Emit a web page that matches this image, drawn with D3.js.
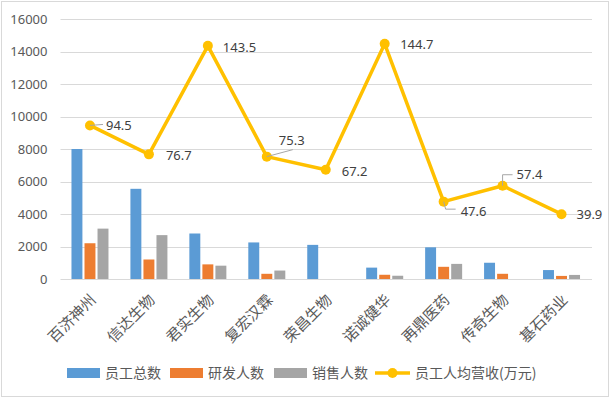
<!DOCTYPE html>
<html>
<head>
<meta charset="utf-8">
<script src="https://cdn.jsdelivr.net/npm/d3@7"></script>
<style>
  body { margin: 0; background: #fff; }
  text { font-family: "Noto Sans CJK SC", "Noto Sans", sans-serif; }
</style>
</head>
<body>
<script>
// Data
var companies = ["百济神州", "信达生物", "君实生物", "复宏汉霖", "荣昌生物", "诺诚健华", "再鼎医药", "传奇生物", "基石药业"];
var staffTotal = [8000, 5550, 2800, 2250, 2100, 700, 1950, 1000, 550];
var staffRD = [2200, 1200, 900, 320, 0, 260, 750, 320, 190];
var staffSales = [3100, 2700, 820, 520, 0, 200, 930, 0, 250];
var revenuePerHead = [94.5, 76.7, 143.5, 75.3, 67.2, 144.7, 47.6, 57.4, 39.9];
var yTicks = [0, 2000, 4000, 6000, 8000, 10000, 12000, 14000, 16000];

var seriesNames = ["员工总数", "研发人数", "销售人数"];
var colors = ["#5b9bd5", "#ed7d31", "#a5a5a5"];
var lineColor = "#ffc000";
var lineName = "员工人均营收(万元)";

// label placement for the line values: text offset and leader line
var labelPos = [
  {dx: 16, dy: 0, leader: [[0, 0], [13, -1]]},
  {dx: 17, dy: 1, leader: null},
  {dx: 15, dy: 1.5, leader: null},
  {dx: 12, dy: -16, leader: [[0, 0], [26, -7]]},
  {dx: 16, dy: 2, leader: null},
  {dx: 15.5, dy: 1, leader: null},
  {dx: 17, dy: 10, leader: [[0, 0], [2, 7.5], [12, 7.5]]},
  {dx: 14, dy: -11, leader: [[0, 0], [0, -11], [10, -11]]},
  {dx: 15, dy: 0, leader: null}
];

var W = 611, H = 398;
var plotLeft = 60.5, plotRight = 591, plotTop = 19, plotBottom = 279;

var svg = d3.select("body").append("svg")
    .attr("width", W)
    .attr("height", H);

// chart border
svg.append("rect")
    .attr("x", 1.5).attr("y", 1.5)
    .attr("width", W - 4).attr("height", H - 3)
    .attr("fill", "#fff")
    .attr("stroke", "#d9d9d9");

var x = d3.scaleBand()
    .domain(companies)
    .range([plotLeft, plotRight]);

var y = d3.scaleLinear()
    .domain([0, 16000])
    .range([plotBottom, plotTop]);

var x1 = d3.scaleBand()
    .domain(d3.range(3))
    .range([-18.5, 18.5])
    .paddingInner(0.16);

// gridlines
svg.append("g")
    .selectAll("line")
    .data(yTicks)
    .enter().append("line")
    .attr("x1", plotLeft)
    .attr("x2", plotRight + 1)
    .attr("y1", d => Math.round(y(d)) + 0.5)
    .attr("y2", d => Math.round(y(d)) + 0.5)
    .attr("stroke", "#d9d9d9");

// y axis labels
var yAxis = svg.append("g")
    .attr("transform", "translate(" + (plotLeft - 10) + ",0)")
    .call(d3.axisLeft(y).tickValues(yTicks).tickSize(0).tickFormat(d3.format("d")));
yAxis.select(".domain").remove();
yAxis.selectAll("text")
    .attr("fill", "#595959")
    .style("font-size", "13px")
    .style("font-family", "'Noto Sans', sans-serif");

// bars
var barSeries = [staffTotal, staffRD, staffSales];
var groups = svg.append("g")
    .selectAll("g")
    .data(companies)
    .enter().append("g")
    .attr("transform", d => "translate(" + (x(d) + x.bandwidth() / 2) + ",0)");

groups.selectAll("rect")
    .data((d, i) => barSeries.map((s, k) => ({k: k, v: s[i]})))
    .enter().append("rect")
    .attr("x", d => x1(d.k))
    .attr("width", x1.bandwidth())
    .attr("y", d => y(d.v))
    .attr("height", d => y(0) - y(d.v))
    .attr("fill", d => colors[d.k]);

// category labels
svg.append("g")
    .selectAll("text")
    .data(companies)
    .enter().append("text")
    .attr("transform", d => "translate(" + (x(d) + x.bandwidth() / 2 + 7) + ",301) rotate(-45)")
    .attr("text-anchor", "end")
    .attr("fill", "#595959")
    .style("font-size", "15px")
    .text(d => d);

// line (values in 万元 plotted x100 on the same axis)
var pts = revenuePerHead.map((v, i) => [x(companies[i]) + x.bandwidth() / 2, y(v * 100)]);

svg.append("path")
    .datum(pts)
    .attr("d", d3.line())
    .attr("fill", "none")
    .attr("stroke", lineColor)
    .attr("stroke-width", 3.5)
    .attr("stroke-linejoin", "round");

svg.append("g")
    .selectAll("circle")
    .data(pts)
    .enter().append("circle")
    .attr("cx", d => d[0])
    .attr("cy", d => d[1])
    .attr("r", 5)
    .attr("fill", lineColor);

// data labels with leader lines
svg.append("g")
    .selectAll("path")
    .data(labelPos.map((p, i) => ({p: p, pt: pts[i]})).filter(d => d.p.leader))
    .enter().append("path")
    .attr("d", d => d3.line()(d.p.leader.map(q => [d.pt[0] + q[0], d.pt[1] + q[1]])))
    .attr("fill", "none")
    .attr("stroke", "#a6a6a6")
    .attr("stroke-width", 1);

svg.append("g")
    .selectAll("text")
    .data(revenuePerHead)
    .enter().append("text")
    .attr("x", (d, i) => pts[i][0] + labelPos[i].dx)
    .attr("y", (d, i) => pts[i][1] + labelPos[i].dy)
    .attr("dy", "0.35em")
    .attr("fill", "#404040")
    .style("font-size", "13px")
    .style("font-family", "'Noto Sans', sans-serif")
    .text(d => d.toFixed(1));

// legend
var legend = svg.append("g").attr("transform", "translate(0,373)");
var legendX = [67, 170, 274];
seriesNames.forEach(function(name, k) {
  legend.append("rect")
      .attr("x", legendX[k]).attr("y", -5)
      .attr("width", 33).attr("height", 10)
      .attr("fill", colors[k]);
  legend.append("text")
      .attr("x", legendX[k] + 38).attr("y", 0)
      .attr("dy", "0.35em")
      .attr("fill", "#595959")
      .style("font-size", "14px")
      .text(name);
});
legend.append("line")
    .attr("x1", 375).attr("x2", 410)
    .attr("stroke", lineColor).attr("stroke-width", 3.5);
legend.append("circle")
    .attr("cx", 392.5).attr("r", 5).attr("fill", lineColor);
legend.append("text")
    .attr("x", 415).attr("y", 0)
    .attr("dy", "0.35em")
    .attr("fill", "#595959")
    .style("font-size", "14px")
    .text(lineName);
</script>
</body>
</html>
